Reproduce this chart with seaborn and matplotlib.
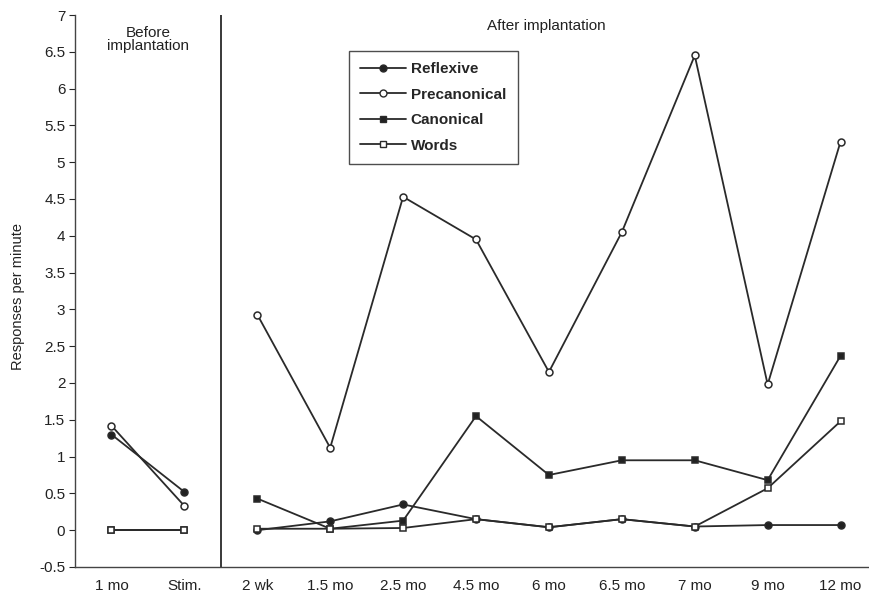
import numpy as np
import pandas as pd
import seaborn as sns
import matplotlib.pyplot as plt
from matplotlib.lines import Line2D

sns.set_style('white')
plt.rcParams['font.family'] = ['Liberation Sans', 'DejaVu Sans']

# time points (first two before implantation, rest after)
ages = ['1 mo', 'Stim.', '2 wk', '1.5 mo', '2.5 mo', '4.5 mo', '6 mo',
        '6.5 mo', '7 mo', '9 mo', '12 mo']
reflexive = [1.30, 0.52, 0.00, 0.12, 0.35, 0.15, 0.04, 0.15, 0.05, 0.07, 0.07]
precanonical = [1.42, 0.33, 2.93, 1.12, 4.53, 3.95, 2.15, 4.05, 6.45, 1.98, 5.28]
canonical = [0.00, 0.00, 0.43, 0.02, 0.13, 1.55, 0.75, 0.95, 0.95, 0.68, 2.37]
words = [0.00, 0.00, 0.02, 0.02, 0.03, 0.15, 0.04, 0.15, 0.05, 0.57, 1.48]

series = {'Reflexive': reflexive, 'Precanonical': precanonical,
          'Canonical': canonical, 'Words': words}
styles = {'Reflexive': ('o', '#222222'), 'Precanonical': ('o', 'white'),
          'Canonical': ('s', '#222222'), 'Words': ('s', 'white')}

rows = []
for name, vals in series.items():
    for i, v in enumerate(vals):
        rows.append({'series': name, 'pos': i, 'value': v,
                     'seg': 'before' if i < 2 else 'after'})
df = pd.DataFrame(rows)

fig = plt.figure(figsize=(8.69, 5.98), dpi=100)
ax = fig.add_axes([75/869, 31/598, 794/869, 552/598])

line_col = '#2a2a2a'
txt_col = '#222222'
draw_order = ['Reflexive', 'Canonical', 'Precanonical', 'Words']
for name in draw_order:
    mk, fc = styles[name]
    for seg in ['before', 'after']:
        d = df[(df.series == name) & (df.seg == seg)]
        sns.lineplot(data=d, x='pos', y='value', ax=ax, color=line_col,
                     marker=mk, markersize=5, markerfacecolor=fc,
                     markeredgecolor=line_col, markeredgewidth=1.1,
                     linewidth=1.3, estimator=None, sort=False, legend=False)

ax.axvline(1.5, color=line_col, linewidth=1.3)

ax.set_xlim(-0.5, 10.39)
ax.set_ylim(-0.5, 7)
ax.set_xticks(range(len(ages)))
ax.set_xticklabels(ages, fontsize=11, color=txt_col)
yt = np.arange(-0.5, 7.01, 0.5)
ax.set_yticks(yt)
ax.set_yticklabels([('%g' % t) for t in yt], fontsize=11, color=txt_col)
ax.tick_params(axis='x', length=0, pad=9)
ax.tick_params(axis='y', length=4, width=0.8, direction='out', left=True, pad=3)
ax.set_xlabel('')
ax.set_ylabel('Responses per minute', fontsize=10.5, color=txt_col)
ax.yaxis.set_label_coords(-0.063, 0.49)

for s in ['top', 'right']:
    ax.spines[s].set_visible(False)
for s in ['left', 'bottom']:
    ax.spines[s].set_color('#444444')
    ax.spines[s].set_linewidth(1.0)

ax.text(0.5, 6.67, 'Before\nimplantation', ha='center', va='center',
        fontsize=11, color=txt_col, linespacing=0.95)
ax.text(5.97, 6.85, 'After implantation', ha='center', va='center',
        fontsize=11, color=txt_col)

handles = []
for name in ['Reflexive', 'Precanonical', 'Canonical', 'Words']:
    mk, fc = styles[name]
    handles.append(Line2D([0], [0], color=line_col, marker=mk, markersize=5,
                          markerfacecolor=fc, markeredgecolor=line_col,
                          linewidth=1.3, label=name))
leg = ax.legend(handles=handles, loc='upper left', bbox_to_anchor=(0.345, 0.935),
                frameon=True, fancybox=False, prop={'weight': 'bold', 'size': 11},
                handlelength=3.0, handletextpad=0.3, labelspacing=0.75,
                borderpad=0.75, borderaxespad=0)
leg.get_frame().set_edgecolor('#222222')
leg.get_frame().set_linewidth(1.0)

fig.savefig('out.png', dpi=100)
